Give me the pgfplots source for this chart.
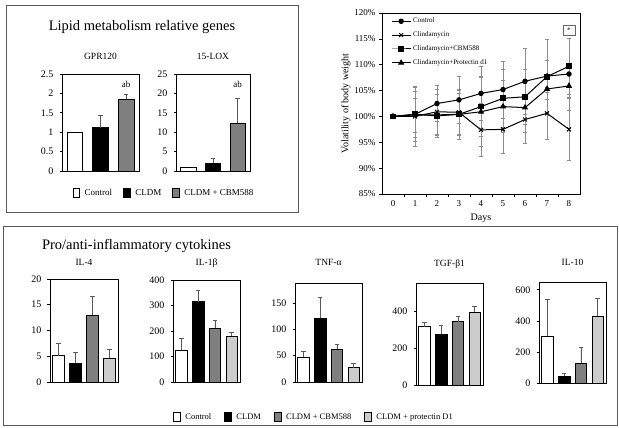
\documentclass[border=0pt]{standalone}
\usepackage{pgfplots}
\pgfplotsset{compat=1.18}
\usepackage{fontspec}
\setmainfont{Liberation Serif}
\definecolor{cbm}{HTML}{7F7F7F}
\definecolor{prot}{HTML}{CCCCCC}
\definecolor{boxc}{HTML}{595959}
\definecolor{errc}{HTML}{5A5A5A}

\pgfplotsset{
  barax/.style={
    scale only axis, anchor=south west, ybar, bar width=0.68,
    xmin=0.5, xmax=4.5, xtick=\empty, ymin=0,
    axis line style={black, line width=0.6pt},
    ytick pos=left, tick align=outside, major tick length=2.5pt,
    tick style={black, line width=0.6pt},
    tick label style={font=\fontsize{10}{12}\selectfont},
    yticklabel style={xshift=-2.5pt},
    /pgf/number format/assume math mode=true,
    title style={font=\fontsize{9.5}{11}\selectfont, anchor=base},
    error bars/y dir=plus, error bars/y explicit,
    error bars/error bar style={errc, line width=0.6pt},
    error bars/error mark options={rotate=90, errc, mark size=2.2pt, line width=0.6pt},
    clip=false,
    legend image code/.code={\draw[##1] (0pt,-4.5pt) rectangle (6.5pt,5pt);},
  },
  cont/.style={fill=white, draw=black, line width=0.6pt, bar shift=0pt},
  cldm/.style={fill=black, draw=black, line width=0.6pt, bar shift=0pt},
  cbm/.style={fill=cbm, draw=black, line width=0.6pt, bar shift=0pt},
  prot/.style={fill=prot, draw=black, line width=0.6pt, bar shift=0pt},
}

\begin{document}
\begin{tikzpicture}[x=1pt,y=1pt]
\path[use as bounding box] (0pt,0pt) rectangle (619pt,428pt);

% frames of the two panels
\draw[boxc, line width=0.9pt] (6pt,216pt) rectangle (298pt,423pt);
\draw[boxc, line width=0.9pt] (3pt,3pt) rectangle (617pt,202pt);

\node[anchor=base, font=\fontsize{14.5}{17}\selectfont] at (142pt,397pt) {Lipid metabolism relative genes};
\node[anchor=base, font=\fontsize{14.5}{17}\selectfont] at (136.5pt,178pt) {Pro/anti-inflammatory cytokines};

% ---------- GPR120 ----------
\begin{axis}[barax, at={(62pt,257pt)}, width=77pt, height=97pt,
  xmax=3.5, bar width=0.62, ymax=2.5, ytick={0,0.5,1,1.5,2,2.5},
  title={GPR120}, title style={yshift=8pt},
  legend columns=3,
  legend style={draw=none, fill=none, at={(1.325,-0.227)}, anchor=center,
    font=\fontsize{9}{11}\selectfont,
    /tikz/every odd column/.append style={column sep=3pt},
    /tikz/every even column/.append style={column sep=9pt}}]
\addplot[cont, error bars/y dir=none] coordinates {(1,1.0)};
\addlegendentry{Control}
\addplot[cldm] coordinates {(2,1.12) +- (0,0.31)};
\addlegendentry{CLDM}
\addplot[cbm] coordinates {(3,1.85) +- (0,0.13)};
\addlegendentry{CLDM + CBM588}
\node[font=\fontsize{9}{11}\selectfont] at (axis cs:3,2.22) {ab};
\end{axis}

% ---------- 15-LOX ----------
\begin{axis}[barax, at={(176pt,257pt)}, width=74pt, height=97pt,
  xmax=3.5, bar width=0.62, ymax=25, ytick={0,5,10,15,20,25},
  title={15-LOX}, title style={yshift=8pt}]
\addplot[cont, error bars/y dir=none] coordinates {(1,1.0)};
\addplot[cldm] coordinates {(2,2.0) +- (0,1.2)};
\addplot[cbm] coordinates {(3,12.3) +- (0,6.5)};
\node[font=\fontsize{9}{11}\selectfont] at (axis cs:3,22.2) {ab};
\end{axis}

% ---------- body weight ----------
\begin{axis}[scale only axis, anchor=south west, at={(382pt,234pt)}, width=198pt, height=181pt,
  xmin=-0.5, xmax=8.5, ymin=85, ymax=120,
  xtick={0,...,8}, minor xtick={0.5,1.5,...,7.5}, major x tick style={draw=none},
  ytick={85,90,...,120}, yticklabel={\pgfmathprintnumber{\tick}\%},
  tick align=outside, xtick pos=bottom, ytick pos=left,
  major tick length=3pt, minor tick length=3pt,
  tick style={black, line width=0.6pt},
  axis line style={black, line width=0.6pt},
  tick label style={font=\fontsize{9}{11}\selectfont},
  /pgf/number format/assume math mode=true,
  xlabel={Days}, ylabel={Volatility of body weight},
  label style={font=\fontsize{10}{12}\selectfont},
  ylabel style={yshift=-3pt},
  error bars/y dir=both, error bars/y explicit,
  error bars/error bar style={black!45, line width=0.6pt},
  error bars/error mark options={rotate=90, black!45, mark size=2pt, line width=0.6pt},
  legend style={draw=none, fill=none, at={(0.03,0.995)}, anchor=north west,
    font=\fontsize{7}{8}\selectfont, row sep=3.5pt, legend cell align=left},
  legend image code/.code={\draw[mark repeat=2,mark phase=2,#1] plot coordinates {(0pt,0pt) (9.5pt,0pt) (19pt,0pt)};}]
\addplot[black, line width=1pt, mark=*, mark size=2.2pt] coordinates {
  (0,100) +- (0,0) (1,100.4) +- (0,5.3) (2,102.5) +- (0,3.5) (3,103.2) +- (0,4.6)
  (4,104.45) +- (0,5.2) (5,105.2) +- (0,5.5) (6,106.8) +- (0,6.3) (7,107.8) +- (0,7.2) (8,108.2) +- (0,7.0)};
\addlegendentry{Control}
\addplot[black, line width=1pt, mark=x, mark size=2.8pt] coordinates {
  (0,100) +- (0,0) (1,100.0) +- (0,5.8) (2,100.9) +- (0,4.3) (3,100.8) +- (0,4.2)
  (4,97.4) +- (0,5.1) (5,97.5) +- (0,4.7) (6,99.4) +- (0,4.6) (7,100.6) +- (0,5.0) (8,97.5) +- (0,6.0)};
\addlegendentry{Clindamycin}
\addplot[black, line width=1pt, mark=square*, mark size=2.4pt] coordinates {
  (0,100) +- (0,0) (1,100.4) +- (0,4.5) (2,100.1) +- (0,4.1) (3,100.4) +- (0,4.9)
  (4,101.9) +- (0,5.8) (5,103.5) +- (0,5.6) (6,103.8) +- (0,5.3) (7,107.7) +- (0,3.1) (8,109.7) +- (0,5.5)};
\addlegendentry{Clindamycin+CBM588}
\addplot[black, line width=1pt, mark=triangle*, mark size=2.7pt] coordinates {
  (0,100) +- (0,0) (1,100.3) +- (0,3.3) (2,100.3) +- (0,4.0) (3,100.4) +- (0,4.0)
  (4,100.9) +- (0,6.6) (5,101.9) +- (0,5.0) (6,101.7) +- (0,4.8) (7,105.3) +- (0,2.0) (8,105.9) +- (0,2.2)};
\addlegendentry{Clindamycin+Protectin d1}
\node[draw=black!60, font=\fontsize{7}{8}\selectfont, minimum width=12pt, minimum height=10pt, inner sep=1pt] at (axis cs:8,116.7) {*};
\end{axis}

% ---------- IL-4 ----------
\begin{axis}[barax, at={(50pt,46pt)}, width=68pt, height=103pt,
  ymax=20, ytick={0,5,10,15,20}, title={IL-4}, title style={yshift=7pt}]
\addplot[cont] coordinates {(1,5.1) +- (0,2.4)};
\addplot[cldm] coordinates {(2,3.7) +- (0,2.0)};
\addplot[cbm] coordinates {(3,13.0) +- (0,3.7)};
\addplot[prot] coordinates {(4,4.6) +- (0,1.7)};
\end{axis}

% ---------- IL-1beta ----------
\begin{axis}[barax, at={(173pt,46pt)}, width=67pt, height=102pt,
  ymax=400, ytick={0,100,200,300,400}, title={IL-1β}, title style={yshift=8pt}]
\addplot[cont] coordinates {(1,124) +- (0,49)};
\addplot[cldm] coordinates {(2,315) +- (0,43)};
\addplot[cbm] coordinates {(3,212) +- (0,31)};
\addplot[prot] coordinates {(4,180) +- (0,13)};
\end{axis}

% ---------- TNF-alpha ----------
\begin{axis}[barax, at={(295pt,46pt)}, width=67pt, height=99pt,
  ymax=188, ytick={0,50,100,150}, title={TNF-α}, title style={yshift=11pt},
  legend columns=4,
  legend style={draw=none, fill=none, at={(0.284,-0.354)}, anchor=center,
    font=\fontsize{8.5}{10}\selectfont,
    /tikz/every odd column/.append style={column sep=3pt},
    /tikz/every even column/.append style={column sep=11pt}}]
\addplot[cont] coordinates {(1,47) +- (0,12)};
\addlegendentry{Control}
\addplot[cldm] coordinates {(2,121) +- (0,40)};
\addlegendentry{CLDM}
\addplot[cbm] coordinates {(3,62.5) +- (0,8.5)};
\addlegendentry{CLDM + CBM588}
\addplot[prot] coordinates {(4,27.5) +- (0,8)};
\addlegendentry{CLDM + protectin D1}
\end{axis}

% ---------- TGF-beta1 ----------
\begin{axis}[barax, at={(416pt,43pt)}, width=67pt, height=102pt,
  ymax=550, ytick={0,200,400}, title={TGF-β1}, title style={yshift=11pt}]
\addplot[cont] coordinates {(1,315) +- (0,23)};
\addplot[cldm] coordinates {(2,276) +- (0,44)};
\addplot[cbm] coordinates {(3,341) +- (0,32)};
\addplot[prot] coordinates {(4,391) +- (0,35)};
\end{axis}

% ---------- IL-10 ----------
\begin{axis}[barax, at={(539pt,45pt)}, width=67pt, height=101pt,
  ymax=650, ytick={0,200,400,600}, title={IL-10}, title style={yshift=10pt}]
\addplot[cont] coordinates {(1,303) +- (0,235)};
\addplot[cldm] coordinates {(2,43) +- (0,22)};
\addplot[cbm] coordinates {(3,129) +- (0,99)};
\addplot[prot] coordinates {(4,430) +- (0,112)};
\end{axis}
\end{tikzpicture}
\end{document}
